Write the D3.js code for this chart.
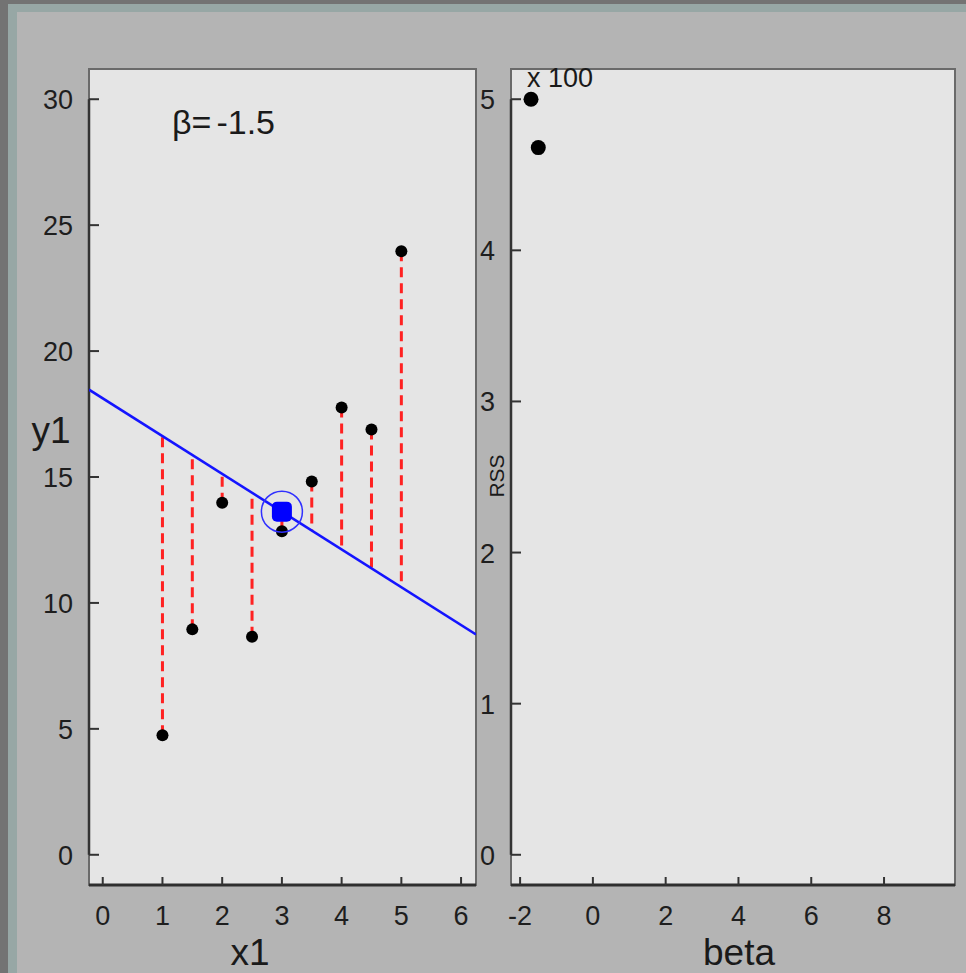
<!DOCTYPE html>
<html>
<head>
<meta charset="utf-8">
<script src="https://cdn.jsdelivr.net/npm/d3@7"></script>
<style>
  html, body { margin: 0; padding: 0; background: #737373; }
  svg { display: block; font-family: "Liberation Sans", Arial, sans-serif; }
</style>
</head>
<body>
<svg id="chart" width="966" height="973"></svg>
<script>
// ---- data ----
const x1Values = [1, 1.5, 2, 2.5, 3, 3.5, 4, 4.5, 5];
const y1Values = [4.75, 8.95, 13.98, 8.66, 12.85, 14.82, 17.76, 16.89, 23.96];
const betaCurrent = -1.5;
const betaHistory = [-1.7, -1.5];
const rssHistory = [5.0, 4.68];          // RSS in units of 100
const xTicksLeft = [0, 1, 2, 3, 4, 5, 6];
const yTicksLeft = [0, 5, 10, 15, 20, 25, 30];
const xTicksRight = [-2, 0, 2, 4, 6, 8];
const yTicksRight = [0, 1, 2, 3, 4, 5];

(function () {
const svg = d3.select("#chart");

// ---- background frame ----
svg.append("rect").attr("x", 0).attr("y", 0).attr("width", 966).attr("height", 973).attr("fill", "#737373");
svg.append("rect").attr("x", 8).attr("y", 4).attr("width", 958).attr("height", 969).attr("fill", "#97a7a5");
svg.append("rect").attr("x", 17).attr("y", 12).attr("width", 949).attr("height", 961).attr("fill", "#b4b4b4");

const pTop = 69, pBottom = 885;
const L = { x0: 89, x1: 476 };
const R = { x0: 511, x1: 955 };

const xL = d3.scaleLinear().domain([-0.23, 6.25]).range([L.x0, L.x1]);
const yL = d3.scaleLinear().domain([-1.2, 31.2]).range([pBottom, pTop]);
const xR = d3.scaleLinear().domain([-2.25, 9.95]).range([R.x0, R.x1]);
const yR = d3.scaleLinear().domain([-0.2, 5.2]).range([pBottom, pTop]);

const tickFont = 27;

function panel(P, xs, ys, xt, yt) {
  const g = svg.append("g");
  g.append("rect").attr("x", P.x0).attr("y", pTop).attr("width", P.x1 - P.x0).attr("height", pBottom - pTop)
    .attr("fill", "#e5e5e5").attr("stroke", "#6a6a6a").attr("stroke-width", 2);
  g.append("line").attr("x1", P.x0).attr("x2", P.x1).attr("y1", pBottom).attr("y2", pBottom)
    .attr("stroke", "#2e2e2e").attr("stroke-width", 3);
  g.append("line").attr("x1", P.x0).attr("x2", P.x0)
    .attr("y1", ys(yt[yt.length - 1])).attr("y2", ys(yt[0]))
    .attr("stroke", "#333").attr("stroke-width", 2.5);
  g.selectAll(".xt").data(xt).join("line")
    .attr("x1", d => xs(d)).attr("x2", d => xs(d)).attr("y1", pBottom).attr("y2", pBottom - 8)
    .attr("stroke", "#333").attr("stroke-width", 2);
  g.selectAll(".xl").data(xt).join("text")
    .attr("x", d => xs(d)).attr("y", 925).attr("text-anchor", "middle")
    .attr("font-size", tickFont).attr("fill", "#1e1e1e").text(d => d);
  g.selectAll(".yt").data(yt).join("line")
    .attr("x1", P.x0).attr("x2", P.x0 + 10).attr("y1", d => ys(d)).attr("y2", d => ys(d))
    .attr("stroke", "#333").attr("stroke-width", 2);
  g.selectAll(".yl").data(yt).join("text")
    .attr("x", P.x0 - 16).attr("y", d => ys(d) + 10).attr("text-anchor", "end")
    .attr("font-size", tickFont).attr("fill", "#1e1e1e").text(d => d);
  return g;
}

panel(L, xL, yL, xTicksLeft, yTicksLeft);
panel(R, xR, yR, xTicksRight, yTicksRight);

// ---- left panel content ----
const mx = d3.mean(x1Values), my = d3.mean(y1Values);
const fit = x => my + betaCurrent * (x - mx);
const gl = svg.append("g");

gl.append("defs").append("clipPath").attr("id", "clipL")
  .append("rect").attr("x", L.x0).attr("y", pTop).attr("width", L.x1 - L.x0).attr("height", pBottom - pTop);

const pts = x1Values.map((x, i) => ({ x, y: y1Values[i] }));

gl.selectAll(".res").data(pts).join("line")
  .attr("x1", d => xL(d.x)).attr("x2", d => xL(d.x))
  .attr("y1", d => yL(d.y)).attr("y2", d => yL(fit(d.x)))
  .attr("stroke", "#ff2222").attr("stroke-width", 3).attr("stroke-dasharray", "10,6");

const xd = xL.domain();
gl.append("line").attr("clip-path", "url(#clipL)")
  .attr("x1", xL(xd[0])).attr("y1", yL(fit(xd[0])))
  .attr("x2", xL(xd[1])).attr("y2", yL(fit(xd[1])))
  .attr("stroke", "#1414ff").attr("stroke-width", 2.6);

gl.selectAll(".pt").data(pts).join("circle")
  .attr("cx", d => xL(d.x)).attr("cy", d => yL(d.y)).attr("r", 6).attr("fill", "#000");

gl.append("circle").attr("cx", xL(mx)).attr("cy", yL(my)).attr("r", 20.5)
  .attr("fill", "none").attr("stroke", "#3030ff").attr("stroke-width", 1.5);
gl.append("rect").attr("x", xL(mx) - 10).attr("y", yL(my) - 10).attr("width", 20).attr("height", 20)
  .attr("rx", 5).attr("fill", "#0000ff");

const bt = gl.append("text").attr("x", 172).attr("y", 134).attr("font-size", 34).attr("fill", "#1a1a1a");
bt.append("tspan").text("β=");
bt.append("tspan").attr("dx", 5).text("-1.5");

svg.append("text").attr("x", 250).attr("y", 965).attr("text-anchor", "middle")
  .attr("font-size", 37).attr("fill", "#1a1a1a").text("x1");
svg.append("text").attr("x", 739).attr("y", 965).attr("text-anchor", "middle")
  .attr("font-size", 37).attr("fill", "#1a1a1a").text("beta");
svg.append("text").attr("x", 51).attr("y", 443).attr("text-anchor", "middle")
  .attr("font-size", 37).attr("fill", "#1a1a1a").text("y1");
svg.append("text").attr("transform", "translate(504,476) rotate(-90)").attr("text-anchor", "middle")
  .attr("font-size", 21).attr("fill", "#1a1a1a").text("RSS");

// ---- right panel content ----
const gr = svg.append("g");
gr.selectAll(".rp").data(betaHistory.map((b, i) => ({ b, r: rssHistory[i] }))).join("circle")
  .attr("cx", d => xR(d.b)).attr("cy", d => yR(d.r)).attr("r", 7.5).attr("fill", "#000");
gr.append("text").attr("x", 527).attr("y", 87).attr("font-size", 27).attr("fill", "#1a1a1a").text("x 100");
})();
</script>
</body>
</html>
